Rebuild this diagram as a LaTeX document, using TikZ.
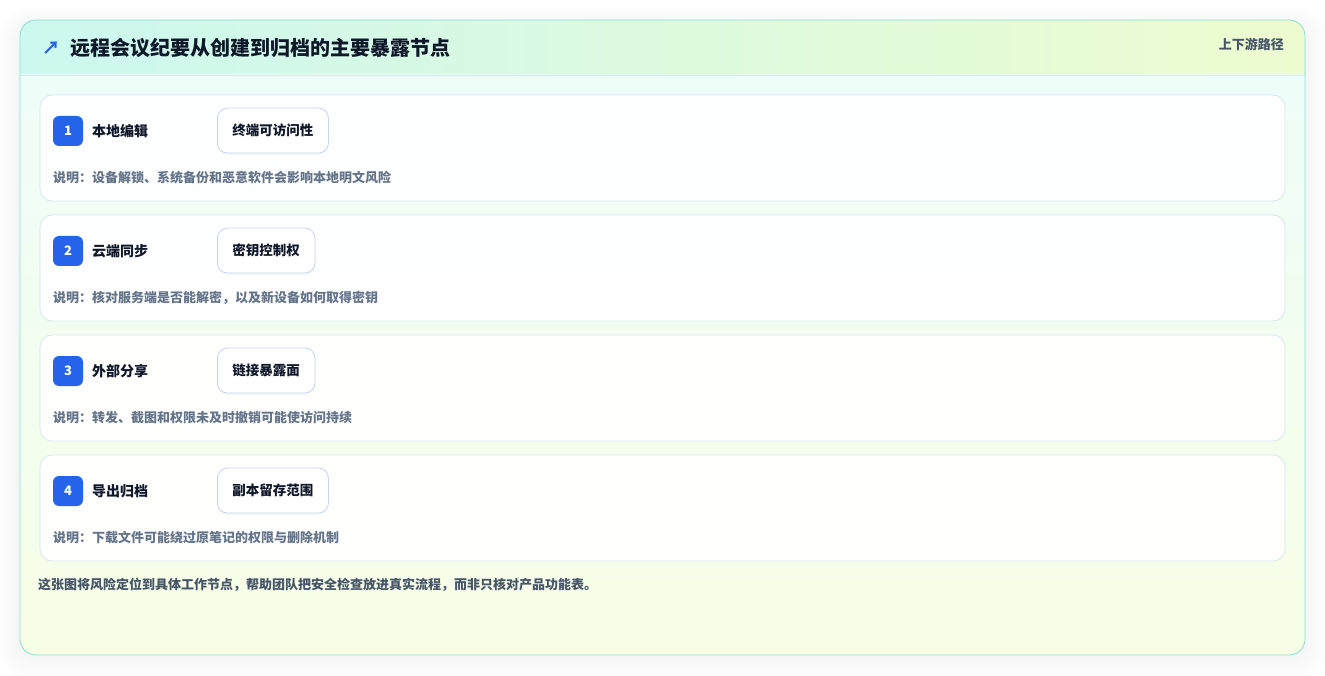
\documentclass[tikz,border=0pt]{standalone}
\usepackage{fontspec}
\setmainfont{Noto Sans CJK SC}
\usetikzlibrary{positioning,shadows}

\definecolor{frameline}{HTML}{86DFD2}
\definecolor{headleft}{HTML}{CCF8EF}
\definecolor{headright}{HTML}{EDFCCF}
\definecolor{bodytop}{HTML}{EFFDF9}
\definecolor{bodybottom}{HTML}{F7FEE6}
\definecolor{rowline}{HTML}{D5E9EE}
\definecolor{chipline}{HTML}{C6D6EE}
\definecolor{badgeblue}{HTML}{2563EB}
\definecolor{titleink}{HTML}{0F172A}
\definecolor{descink}{HTML}{64748B}
\definecolor{noteink}{HTML}{475569}

\tikzset{
  rowcard/.style={draw=rowline, fill=white, fill opacity=0.92, rounded corners=12pt, line width=0.8pt},
  badge/.style={fill=badgeblue, rounded corners=6pt, minimum size=30pt, inner sep=0pt,
    text=white, font=\fontsize{13}{13}\selectfont\bfseries},
  rowlabel/.style={anchor=west, inner sep=0pt, text=titleink, font=\fontsize{14}{14}\selectfont\bfseries},
  chip/.style={anchor=west, draw=chipline, fill=white, rounded corners=10pt, line width=0.8pt,
    minimum height=45pt, inner xsep=15pt, text=titleink, font=\fontsize{13.5}{13.5}\selectfont\bfseries,
    drop shadow={opacity=0.05, shadow xshift=0pt, shadow yshift=-2pt}},
  desc/.style={anchor=west, inner sep=0pt, text=descink, font=\fontsize{13}{13}\selectfont\bfseries}
}

\begin{document}
\begin{tikzpicture}[x=1pt,y=-1pt]
    \useasboundingbox (0,0) rectangle (1325,676);

    % soft shadow of the frame
    \foreach \s in {2,4,...,20}
        \fill[black, opacity=0.005, rounded corners=22pt] (20-\s,20-\s+8) rectangle (1305+\s,655+\s+2);

    % frame
    \fill[white, rounded corners=16pt] (20,20) rectangle (1305,655);
    \begin{scope}
        \clip[rounded corners=16pt] (20,20) rectangle (1305,655);
        \shade[left color=headleft, right color=headright] (20,20) rectangle (1305,75);
        \shade[top color=bodytop, bottom color=bodybottom] (20,75) rectangle (1305,655);
    \end{scope}
    \draw[rowline] (20,75) -- (1305,75);
    \draw[frameline, line width=0.8pt, rounded corners=16pt] (20,20) rectangle (1305,655);

    \node[anchor=west, inner sep=0pt, text=badgeblue, font=\fontsize{18}{18}\selectfont\bfseries] (icon) at (42,48) {↗};
    \node[anchor=west, inner sep=0pt, text=titleink, font=\fontsize{20}{20}\selectfont\bfseries] (title) at (70,48) {远程会议纪要从创建到归档的主要暴露节点};
    \node[anchor=east, inner sep=0pt, text=noteink, font=\fontsize{13}{13}\selectfont\bfseries] (path) at (1284,44) {上下游路径};

    % rows
    \foreach \n/\lab/\chiptext/\desctext [evaluate=\n as \y using 95+(\n-1)*120] in {
        1/本地编辑/终端可访问性/设备解锁、系统备份和恶意软件会影响本地明文风险,
        2/云端同步/密钥控制权/核对服务端是否能解密，以及新设备如何取得密钥,
        3/外部分享/链接暴露面/转发、截图和权限未及时撤销可能使访问持续,
        4/导出归档/副本留存范围/下载文件可能绕过原笔记的权限与删除机制} {
        \draw[rowcard] (40,\y) rectangle (1285,\y+106);
        \node[badge] (b\n) at (68,\y+36) {\n};
        \node[rowlabel] (l\n) at (92,\y+36) {\lab};
        \node[chip] (c\n) at (217,\y+35.5) {\chiptext};
        \node[desc] (d\n) at (53,\y+83) {说明：\desctext};
    }

    \node[anchor=west, inner sep=0pt, text=noteink, font=\fontsize{13}{13}\selectfont\bfseries] (footer) at (38,585)
        {这张图将风险定位到具体工作节点，帮助团队把安全检查放进真实流程，而非只核对产品功能表。};
\end{tikzpicture}
\end{document}
